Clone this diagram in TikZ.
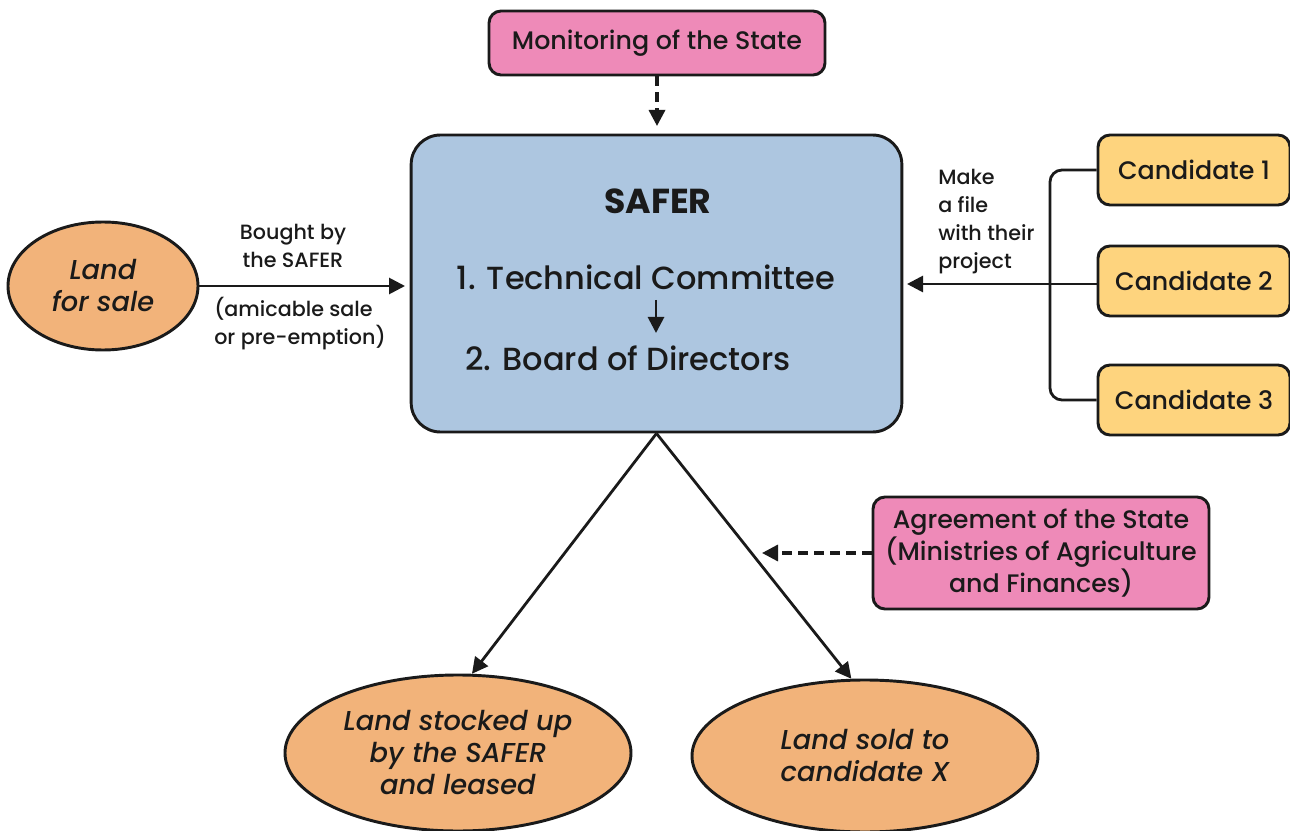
\documentclass[tikz,border=0pt]{standalone}
\usepackage{fontspec}
\setmainfont{Poppins}[UprightFont={Poppins Medium}, ItalicFont={Poppins Medium Italic}, BoldFont={Poppins Bold}]
\usetikzlibrary{arrows.meta,shapes.geometric}
\definecolor{pinkf}{HTML}{EE8AB8}
\definecolor{bluef}{HTML}{ADC6E0}
\definecolor{orangef}{HTML}{F2B37A}
\definecolor{yellowf}{HTML}{FED47E}
\definecolor{ink}{HTML}{1A1A1A}
\tikzset{
  box/.style={draw=ink, line width=2.2pt, rounded corners=9pt, inner sep=0pt, text=ink, align=center},
  pinkbox/.style={box, fill=pinkf, font=\fontsize{19pt}{24pt}\selectfont},
  candbox/.style={box, fill=yellowf, minimum width=144pt, minimum height=52.5pt, font=\fontsize{19pt}{24pt}\selectfont},
  landell/.style={ellipse, draw=ink, line width=2.2pt, fill=orangef, inner sep=0pt, text=ink, align=center, font=\itshape\fontsize{20.5pt}{24pt}\selectfont},
  conn/.style={draw=ink, line width=2.1pt, -{Triangle[length=12pt,width=12pt]}},
  dconn/.style={conn, line width=2.5pt, dash pattern=on 7.5pt off 4.5pt},
  lbl/.style={text=ink, inner sep=0pt, font=\fontsize{15.5pt}{21pt}\selectfont},
}
\begin{document}
\begin{tikzpicture}[x=0.75pt,y=-0.75pt]
\useasboundingbox (0,0) rectangle (1290,831);
% main boxes
\node[pinkbox, minimum width=252pt, minimum height=48pt] (mon) at (657,43) {Monitoring of the State};
\node[box, fill=bluef, rounded corners=22pt, minimum width=368pt, minimum height=222.75pt] (safer) at (656.5,283.5) {};
\node[text=ink, font=\bfseries\fontsize{26pt}{30pt}\selectfont] (tsafer) at (658,201) {SAFER};
\node[text=ink, font=\fontsize{24pt}{30pt}\selectfont] (ttech) at (646,277) {1. Technical Committee};
\node[text=ink, font=\fontsize{24pt}{30pt}\selectfont] (tboard) at (628,358) {2. Board of Directors};
\coordinate (ia) at (656,300);
\coordinate (ib) at (656,333);
\draw[conn] (ia) -- (ib);
% land for sale
\node[landell, minimum width=142.5pt, minimum height=96pt] (land) at (103,286) {Land\\for sale};
\coordinate (lt) at (405,286);
\draw[conn] (land.east) -- (lt);
\node[lbl, align=center] (lb1) at (293,246) {Bought by\\the SAFER};
\node[lbl, align=left] (lb2) at (300,324) {(amicable sale\\or pre-emption)};
% candidates
\node[candbox] (c1) at (1194,170) {Candidate 1};
\node[candbox] (c2) at (1194,281) {Candidate 2};
\node[candbox] (c3) at (1194,400) {Candidate 3};
\coordinate (bx) at (1050,0);
\draw[draw=ink, line width=2.1pt, rounded corners=9pt] (c1.west) -| (bx |- c2.west) |- (c3.west);
\coordinate (ct) at (907,284);
\draw[conn] (c2.west |- ct) -- (ct);
\node[lbl, align=left, anchor=west] (mk) at (938,222) {Make\\a file\\with their\\project};
% monitoring arrow
\coordinate (mt) at (657,126);
\draw[dconn] (mon.south) -- (mt);
% outcomes
\node[landell, minimum width=259.5pt, minimum height=117pt] (stock) at (458,753) {Land stocked up\\by the SAFER\\and leased};
\node[landell, minimum width=259.5pt, minimum height=114pt] (sold) at (865,756) {Land sold to\\candidate X};
\draw[conn] (safer.south) -- (stock.80);
\draw[conn] (safer.south) -- (sold.100);
% agreement
\node[pinkbox, minimum width=252pt, minimum height=84pt] (agr) at (1041,553) {Agreement of the State\\(Ministries of Agriculture\\and Finances)};
\coordinate (at) at (762,553);
\draw[dconn] (agr.west) -- (at);
\end{tikzpicture}
\end{document}
